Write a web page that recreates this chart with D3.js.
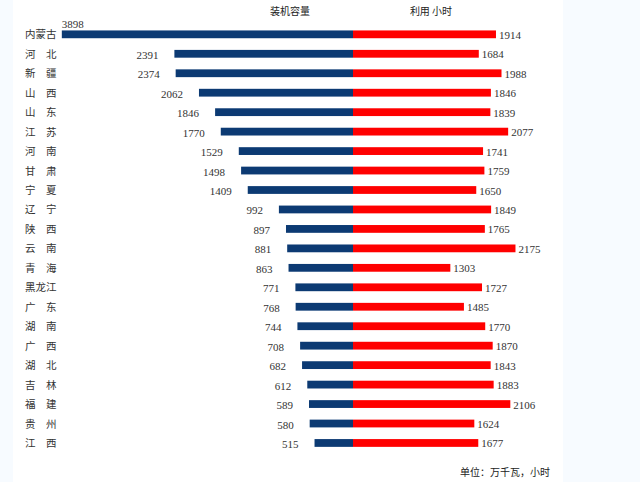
<!DOCTYPE html>
<html>
<head>
<meta charset="utf-8">
<script src="https://cdn.jsdelivr.net/npm/d3@7/dist/d3.min.js"></script>
<style>
  html, body { margin: 0; padding: 0; background: #fff; }
  svg { display: block; }
</style>
</head>
<body>
<script>
const provinces = ["内蒙古","河　北","新　疆","山　西","山　东","江　苏","河　南","甘　肃","宁　夏","辽　宁","陕　西","云　南","青　海","黑龙江","广　东","湖　南","广　西","湖　北","吉　林","福　建","贵　州","江　西"];
const capacity = [3898,2391,2374,2062,1846,1770,1529,1498,1409,992,897,881,863,771,768,744,708,682,612,589,580,515];
const hours = [1914,1684,1988,1846,1839,2077,1741,1759,1650,1849,1765,2175,1303,1727,1485,1770,1870,1843,1883,2106,1624,1677];
const leftTitle = "装机容量";
const rightTitle = "利用 小时";
const unitText = "单位：万千瓦，小时";

const W = 640, H = 482;
const cx = 353;
const svg = d3.select("body").append("svg").attr("width", W).attr("height", H);

// side panels
svg.append("rect").attr("x", 0).attr("y", 0).attr("width", 13).attr("height", H).attr("fill", "#f7fbff");
svg.append("rect").attr("x", 563).attr("y", 0).attr("width", W - 563).attr("height", H).attr("fill", "#f7fbff");

const len = d3.scaleLinear().domain([0, 4000]).range([0, 298.8]);
const y = d3.scaleBand().domain(provinces).range([24.6, 452.7]).paddingInner(0.6).paddingOuter(0.3);
const bh = y.bandwidth();
const yc = d => y(d) + bh / 2;

const rows = provinces.map((p, i) => ({p, c: capacity[i], h: hours[i], i}));

// left bars
svg.selectAll("rect.cap").data(rows).enter().append("rect")
  .attr("class", "cap")
  .attr("x", d => cx - len(d.c)).attr("y", d => y(d.p))
  .attr("width", d => len(d.c)).attr("height", bh)
  .attr("fill", "#0c3a73");

// right bars
svg.selectAll("rect.hrs").data(rows).enter().append("rect")
  .attr("class", "hrs")
  .attr("x", cx).attr("y", d => y(d.p))
  .attr("width", d => len(d.h)).attr("height", bh)
  .attr("fill", "#ff0000");

const numFont = "'Liberation Serif', 'Times New Roman', serif";
const cjkFont = "'Noto Sans CJK SC', sans-serif";

// left value labels
svg.selectAll("text.capv").data(rows).enter().append("text")
  .attr("class", "capv")
  .attr("x", d => d.i === 0 ? cx - len(d.c) : cx - len(d.c) - 16)
  .attr("y", d => d.i === 0 ? yc(d.p) - 6 : yc(d.p) + 5)
  .attr("text-anchor", d => d.i === 0 ? "start" : "end")
  .attr("font-family", numFont).attr("font-size", 11).attr("fill", "#333")
  .text(d => d.c);

// right value labels
svg.selectAll("text.hrsv").data(rows).enter().append("text")
  .attr("class", "hrsv")
  .attr("x", d => cx + len(d.h) + 3)
  .attr("y", d => yc(d.p) + 4.5)
  .attr("font-family", numFont).attr("font-size", 11).attr("fill", "#333")
  .text(d => d.h);

// category labels
svg.selectAll("text.cat").data(rows).enter().append("text")
  .attr("class", "cat")
  .attr("x", 25).attr("y", d => yc(d.p) + 4)
  .attr("font-family", cjkFont).attr("font-size", 10.5).attr("fill", "#333")
  .text(d => d.p);

// titles
svg.append("text").attr("x", 290).attr("y", 15).attr("text-anchor", "middle")
  .attr("font-family", cjkFont).attr("font-size", 10).attr("fill", "#222").text(leftTitle);
svg.append("text").attr("x", 431).attr("y", 15).attr("text-anchor", "middle")
  .attr("font-family", cjkFont).attr("font-size", 10).attr("fill", "#222").text(rightTitle);
svg.append("text").attr("x", 550).attr("y", 476).attr("text-anchor", "end")
  .attr("font-family", cjkFont).attr("font-size", 10).attr("fill", "#222").text(unitText);
</script>
</body>
</html>
